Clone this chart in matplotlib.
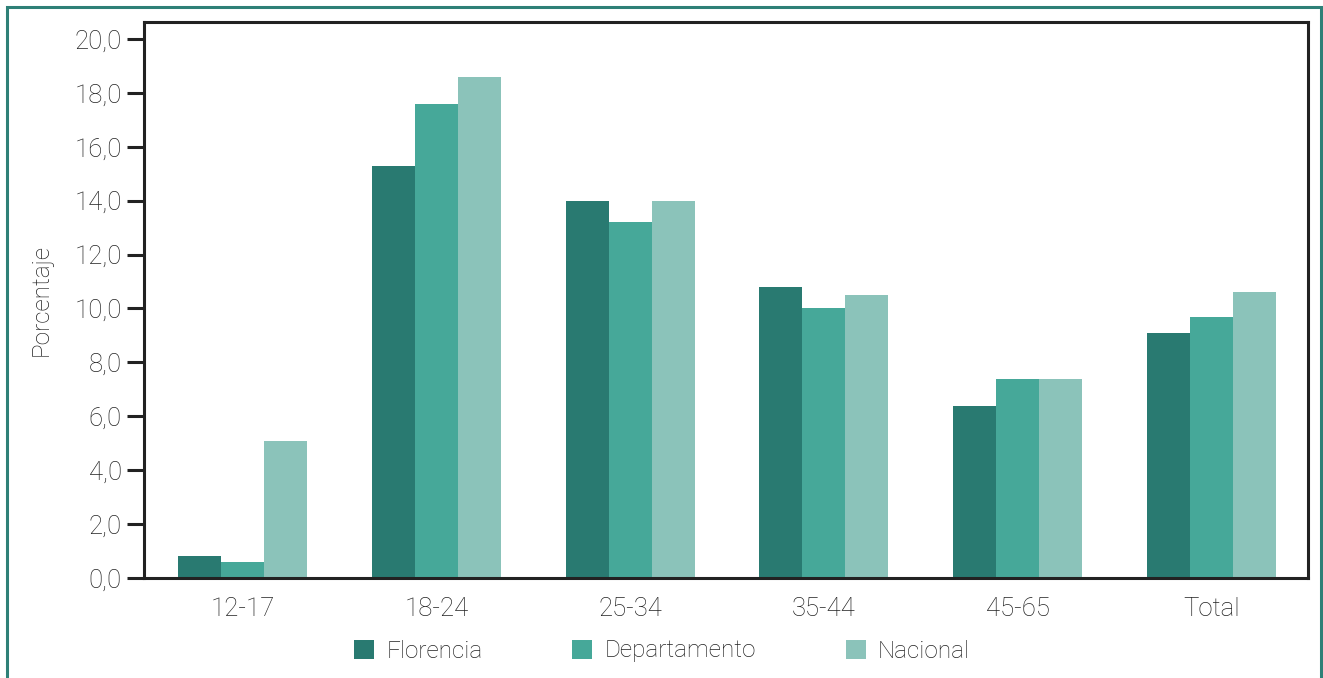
import matplotlib

matplotlib.use("Agg")
import matplotlib.pyplot as plt
import numpy as np
from matplotlib.patches import Patch, Rectangle

groups = ["12-17", "18-24", "25-34", "35-44", "45-65", "Total"]
florencia = [0.8, 15.3, 14.0, 10.8, 6.4, 9.1]
departamento = [0.6, 17.6, 13.2, 10.0, 7.4, 9.7]
nacional = [5.1, 18.6, 14.0, 10.5, 7.4, 10.6]
series_names = ["Florencia", "Departamento", "Nacional"]
colors = ["#297a71", "#46a899", "#8bc3ba"]
yticks = np.arange(0, 21, 2)

plt.rcParams["font.family"] = ["Roboto", "DejaVu Sans"]
plt.rcParams["font.weight"] = "light"
text_color = "#222222"

fig = plt.figure(figsize=(13.23, 6.78), dpi=100)
ax = fig.add_axes([144 / 1323, 1 - 578 / 678, 1164 / 1323, 556 / 678])

x = np.arange(len(groups))
w = 0.222
for i, (vals, col) in enumerate(zip([florencia, departamento, nacional], colors)):
    ax.bar(x + (i - 1) * w, vals, width=w, color=col, zorder=2)

ax.set_xlim(-0.51, 5.5)
ax.set_ylim(0, 20.63)
ax.set_yticks(yticks)
ax.set_yticklabels([f"{v:.1f}".replace(".", ",") for v in yticks],
                   fontsize=18.5, color=text_color, fontweight="light")
ax.set_xticks(x)
ax.set_xticklabels(groups, fontsize=18.5, color=text_color, fontweight="light")
ax.tick_params(axis="y", length=12, width=2.2, color="#222222", pad=4)
ax.tick_params(axis="x", length=0, pad=14)
for s in ax.spines.values():
    s.set_color("#222222")
    s.set_linewidth(2.2)
ax.set_ylabel("Porcentaje", fontsize=17.5, color=text_color,
              fontweight="light", labelpad=16)

handles = [Patch(facecolor=c, edgecolor="none") for c in colors]
leg = fig.legend(handles, series_names, loc="center",
                 bbox_to_anchor=(662 / 1323, 1 - 651 / 678),
                 ncol=3, frameon=False, prop={"size": 17.5, "weight": "light"},
                 handlelength=0.82, handleheight=0.82,
                 handletextpad=0.5, columnspacing=3.7, labelcolor=text_color)

# outer teal frame (bottom edge cut off like the source)
fig.patches.append(Rectangle((7 / 1323, -0.05), 1314 / 1323, 1.05 - 7 / 678,
                             transform=fig.transFigure, fill=False,
                             edgecolor="#2e8077", linewidth=2.2))

fig.savefig("out.png", dpi=100)
